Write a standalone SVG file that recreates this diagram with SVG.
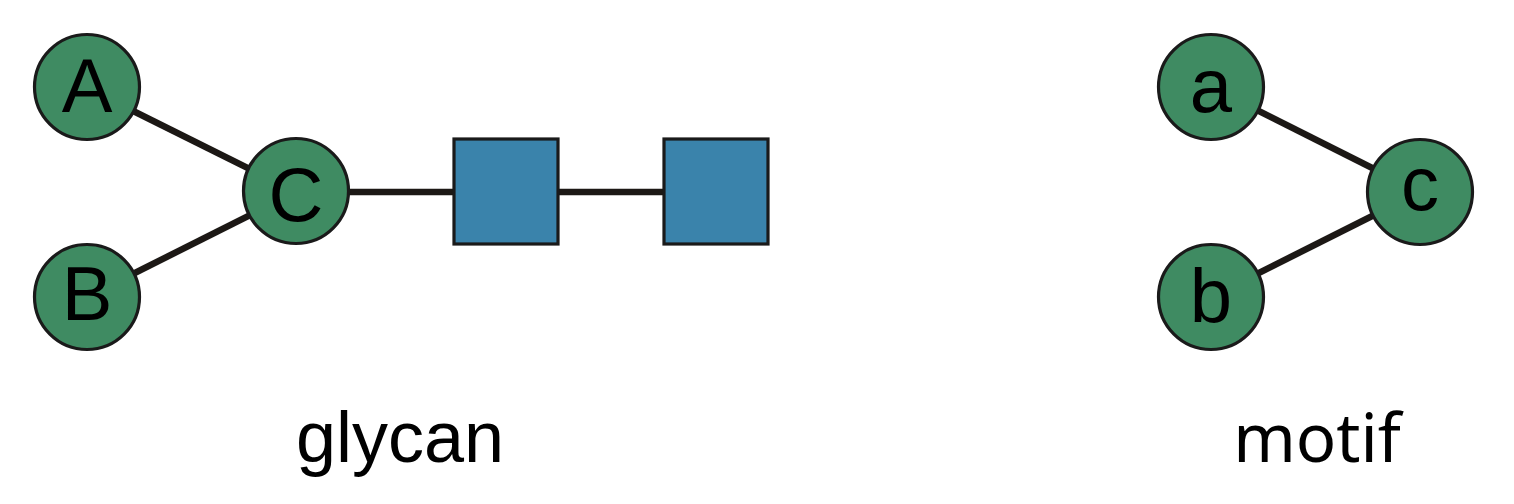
<svg xmlns="http://www.w3.org/2000/svg" width="1514" height="504" viewBox="0 0 1514 504">
<style>
.edge{stroke:#1c1815;stroke-width:6.5;fill:none}
.mono{fill:#3f8b62;stroke:#1a1a1a;stroke-width:3.2}
.sq{fill:#3a83ab;stroke:#1a1a1a;stroke-width:3.2}
.lbl{font-family:"Liberation Sans",Arial,sans-serif;font-size:76px;fill:#000;text-anchor:middle}
.ml{font-family:"Noto Sans","DejaVu Sans",sans-serif;font-size:67px;fill:#000;text-anchor:middle}
</style>
<rect width="1514" height="504" fill="#fff"/>
<g id="connectors">
<line class="edge" x1="87" y1="88" x2="296" y2="192"/>
<line class="edge" x1="87" y1="297" x2="296" y2="192"/>
<line class="edge" x1="296" y1="192" x2="506" y2="192"/>
<line class="edge" x1="506" y1="192" x2="716" y2="192"/>
<line class="edge" x1="1211" y1="87" x2="1420" y2="192"/>
<line class="edge" x1="1211" y1="297" x2="1420" y2="192"/>
</g>
<g id="node-A"><circle class="mono" cx="87" cy="87" r="52.5"/><text class="lbl" x="87" y="112">A</text></g>
<g id="node-B"><circle class="mono" cx="87" cy="297" r="52.5"/><text class="lbl" x="87" y="320">B</text></g>
<g id="node-C"><circle class="mono" cx="296" cy="191" r="52.5"/><text class="lbl" x="296" y="221">C</text></g>
<g id="node-sq1"><rect class="sq" x="454" y="139" width="104" height="105"/></g>
<g id="node-sq2"><rect class="sq" x="664" y="139" width="104" height="105"/></g>
<g id="node-a"><circle class="mono" cx="1211" cy="87" r="52.5"/><text class="lbl" x="1211" y="112">a</text></g>
<g id="node-b"><circle class="mono" cx="1211" cy="297" r="52.5"/><text class="lbl" x="1211" y="322">b</text></g>
<g id="node-c"><circle class="mono" cx="1420" cy="192" r="52.5"/><text class="lbl" x="1420" y="210">c</text></g>
<text id="label-glycan" class="lbl" x="400" y="462" style="font-size:72px">glycan</text>
<text id="label-motif" class="ml" x="1317" y="462">motif</text>
</svg>
